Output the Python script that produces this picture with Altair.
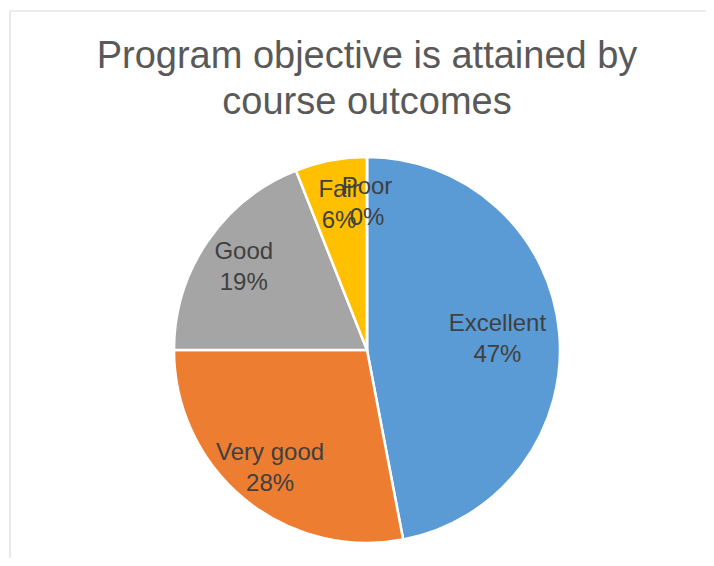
import altair as alt
import pandas as pd

categories = ["Excellent", "Very good", "Good", "Fair", "Poor"]
values = [47, 28, 19, 6, 0]
colors = ["#5B9BD5", "#ED7D31", "#A5A5A5", "#FFC000", "#4472C4"]
title_lines = ["Program objective is attained by", "course outcomes"]

df = pd.DataFrame({"category": categories, "value": values, "idx": list(range(len(categories)))})

base = alt.Chart(df)

pie = base.mark_arc(outerRadius=193, stroke="white", strokeWidth=2.5).encode(
    theta=alt.Theta("value:Q", stack=True),
    color=alt.Color("category:N", scale=alt.Scale(domain=categories, range=colors), legend=None),
    order=alt.Order("idx:Q", sort="ascending"),
)

labels = base.transform_window(
    cum="sum(value)", sort=[alt.SortField("idx", order="ascending")]
).transform_calculate(
    mid="datum.cum - datum.value / 2",
    label="datum.category + '|' + datum.value + '%'",
    r="datum.category == 'Excellent' ? 131 : (datum.category == 'Very good' ? 152 : 149)",
).mark_text(
    lineBreak="|", font="Liberation Sans", fontSize=24, lineHeight=31, dy=-14,
    color="#404040", align="center", baseline="middle",
).encode(
    theta=alt.Theta("mid:Q", stack=None),
    radius=alt.Radius("r:Q", scale=None),
    text="label:N",
)

frame = alt.Chart(pd.DataFrame({"a": [0]})).mark_rect(
    filled=False, color="#d9d9d9", strokeWidth=1.2
).encode(
    x=alt.value(-18), y=alt.value(-137), x2=alt.value(900), y2=alt.value(900)
)

chart = alt.layer(frame, pie, labels).properties(
    width=678,
    height=404,
    background="white",
    autosize=alt.AutoSizeParams(type="none"),
    padding={"left": 20, "top": 140, "right": 0, "bottom": 6},
    title=alt.TitleParams(
        text=title_lines, font="Liberation Sans", fontSize=38, fontWeight="normal",
        color="#595959", lineHeight=46, anchor="middle", offset=-112,
    ),
).configure_view(strokeWidth=0, stroke=None)

chart.save("out.html", embed_options={"renderer": "svg", "actions": False})
